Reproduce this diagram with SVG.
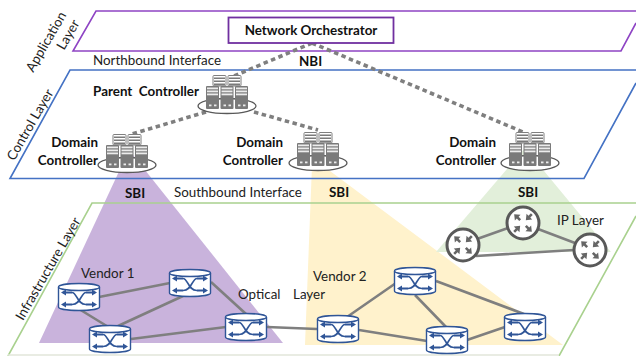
<svg xmlns="http://www.w3.org/2000/svg" xmlns:xlink="http://www.w3.org/1999/xlink" width="636" height="356" viewBox="0 0 636 356">
<style>
text{font-family:Lato,"Liberation Sans",sans-serif;font-size:13.4px;fill:#222}
.b{font-weight:700;fill:#111}
.e{text-anchor:end}
.m{text-anchor:middle}
.layer{fill:none}
.link{stroke:#7f7f7f;stroke-width:2.6;fill:none}
.ctl{stroke:#7f7f7f;stroke-width:3.6;stroke-dasharray:4.500 3.500;fill:none}
.cyl{fill:#fff;stroke:#2f5597;stroke-width:1.4}
.x{stroke:#2f5597;fill:none}
.ar{fill:#2f5597}
.ipa{fill:#666;stroke:none}
.srv{fill:#7a7a7a}
.st{fill:#ececec}
</style>
<defs>
<g id="s"><rect class="srv" x="0" y="0" width="13" height="23" rx="1"/><rect class="st" x="1" y="1.500" width="11" height="1.800"/><rect class="st" x="1" y="4.500" width="11" height="1.800"/><rect class="st" x="1" y="7.500" width="11" height="1.800"/><rect class="st" x="3" y="18.500" width="2.500" height="1.800"/><rect class="st" x="8" y="18.500" width="2.500" height="1.800"/></g>
<g id="t"><rect x="0" y="0" width="13" height="10.500" rx="1" fill="#fff" stroke="#7f7f7f"/><rect class="srv" x="1" y="2" width="11" height="1.500"/><rect class="srv" x="1" y="5" width="11" height="1.500"/><rect class="srv" x="1" y="8" width="11" height="2"/></g>
<g id="cluster">
<ellipse cx="0" cy="0" rx="29" ry="7.500" fill="#fff" stroke="#595959" stroke-width="1.300"/>
<use xlink:href="#t" href="#t" x="-14" y="-30.500"/><use xlink:href="#t" href="#t" x="1" y="-30.500"/>
<use xlink:href="#s" href="#s" x="-21" y="-20"/><use xlink:href="#s" href="#s" x="-6.500" y="-20"/><use xlink:href="#s" href="#s" x="8" y="-20"/>
</g>
<g id="opt">
<path class="cyl" d="M-20.500-10 A20.500 3.500 0 0 1 20.500-10 V10 A20.500 3.500 0 0 1-20.500 10 Z"/>
<path class="x" stroke-width="1.400" d="M-20.500-10 A20.500 3.500 0 0 0 20.500-10"/>
<path class="x" stroke-width="1.700" d="M-7-4.500 C-2-4.500-2 7.500 7 7.500 M7-4.500 C2-4.500 2 7.500-7 7.500"/>
<g class="ar"><path d="M-18-4.500 L-13-7.500 V-5.500 H-7 V-3.500 H-13 V-1.500 Z"/><path d="M18-4.500 L13-7.500 V-5.500 H7 V-3.500 H13 V-1.500 Z"/><path d="M-18 7.500 L-13 4.500 V6.500 H-7 V8.500 H-13 V10.500 Z"/><path d="M18 7.500 L13 4.500 V6.500 H7 V8.500 H13 V10.500 Z"/></g>
</g>
<path id="ia" d="M0 0 L5 -4 V-1.300 H8.500 V1.300 H5 V4 Z"/>
<g id="ip">
<circle r="16" fill="#fff" stroke="#595959" stroke-width="3"/>
<g class="ipa">
<use xlink:href="#ia" href="#ia" transform="rotate(45) translate(-12.500,0)"/>
<use xlink:href="#ia" href="#ia" transform="rotate(-45) translate(4,0)"/>
<use xlink:href="#ia" href="#ia" transform="rotate(135) translate(4,0)"/>
<use xlink:href="#ia" href="#ia" transform="rotate(225) translate(-12.500,0)"/>
</g>
</g>
</defs>

<g id="wedges">
<polygon points="39,343 129,150 283,343" fill="#c9b3dc"/>
<polygon points="305,345 312,165 322,165 563,345" fill="#fff2cc"/>
<polygon points="436,252 525,148 611,252" fill="#e2efda"/>
</g>

<g id="layers">
<g id="application-layer"><path class="layer" d="M636 23 L621 51 H73 L96 11 H636" stroke="#8e44c4" stroke-width="1.600"/></g>
<g id="control-layer"><path class="layer" d="M636 83 L584 178.500 H10 L70 70 H636" stroke="#4472c4" stroke-width="1.600"/></g>
<g id="infrastructure-layer"><path class="layer" d="M636 216 L559 356 M8 356 L92 203 H636" stroke="#a9d18e" stroke-width="1.600"/><path d="M8 355 H559" stroke="#e2e6da" stroke-width="1.500"/></g>
</g>

<g id="connectors">
<path class="ctl" d="M312 43 L234 76"/>
<path class="ctl" d="M312 43 L523 132"/>
<path class="ctl" d="M206 112 L132 134"/>
<path class="ctl" d="M254 112 L318 130"/>
<path class="link" d="M99 297 L170 283 M79 309 L110 328 M183 296 L118 326 M211 282 L246 314 M131 339 L226 327 M267 327 L317 329 M347 317 L396 283 M359 330 L427 341 M415 295 L446 327 M436 281 L524 314 M467 340 L505 327"/>
<path class="link" d="M477 239 L508 228 M538 229 L575 243 M476 256 L574 250"/>
</g>

<g id="network-orchestrator"><rect x="228.500" y="17.500" width="165" height="25.500" fill="#fff" stroke="#7030a0" stroke-width="1.800"/><text class="b m" x="311" y="35">Network Orchestrator</text></g>

<g id="parent-controller"><use xlink:href="#cluster" href="#cluster" x="227" y="106"/><text class="b e" x="199" y="96" xml:space="preserve">Parent  Controller</text></g>
<g id="domain-controller-1"><use xlink:href="#cluster" href="#cluster" x="127" y="165"/><text class="b e" x="98" y="147">Domain</text><text class="b e" x="98" y="165">Controller</text></g>
<g id="domain-controller-2"><use xlink:href="#cluster" href="#cluster" x="318" y="163"/><text class="b e" x="283" y="147">Domain</text><text class="b e" x="283" y="165">Controller</text></g>
<g id="domain-controller-3"><use xlink:href="#cluster" href="#cluster" x="530" y="163"/><text class="b e" x="496" y="147">Domain</text><text class="b e" x="496" y="165">Controller</text></g>

<g id="opt-1"><use xlink:href="#opt" href="#opt" x="79" y="297"/></g>
<g id="opt-2"><use xlink:href="#opt" href="#opt" x="190" y="283"/></g>
<g id="opt-3"><use xlink:href="#opt" href="#opt" x="110" y="339"/></g>
<g id="opt-4"><use xlink:href="#opt" href="#opt" x="246" y="327"/></g>
<g id="opt-5"><use xlink:href="#opt" href="#opt" x="338" y="329"/></g>
<g id="opt-6"><use xlink:href="#opt" href="#opt" x="415" y="281"/></g>
<g id="opt-7"><use xlink:href="#opt" href="#opt" x="447" y="340"/></g>
<g id="opt-8"><use xlink:href="#opt" href="#opt" x="525" y="327"/></g>
<g id="ip-1"><use xlink:href="#ip" href="#ip" x="463" y="245"/></g>
<g id="ip-2"><use xlink:href="#ip" href="#ip" x="523" y="223"/></g>
<g id="ip-3"><use xlink:href="#ip" href="#ip" x="590" y="250"/></g>

<g id="labels">
<text class="m" transform="translate(50,44) rotate(-60)">Application</text>
<text class="m" transform="translate(72,37) rotate(-60)">Layer</text>
<text class="m" transform="translate(34,127) rotate(-60)">Control Layer</text>
<text class="m" transform="translate(52,271) rotate(-60)">Infrastructure Layer</text>
<text x="93" y="65">Northbound Interface</text>
<text class="b" x="299" y="66">NBI</text>
<text class="b" x="125" y="198">SBI</text>
<text class="b" x="329" y="197">SBI</text>
<text class="b" x="518" y="197">SBI</text>
<text x="174" y="197">Southbound Interface</text>
<text x="81" y="278">Vendor 1</text>
<text x="238" y="299">Optical</text>
<text x="293" y="299">Layer</text>
<text x="313" y="281">Vendor 2</text>
<text x="557" y="225">IP Layer</text>
</g>
</svg>
